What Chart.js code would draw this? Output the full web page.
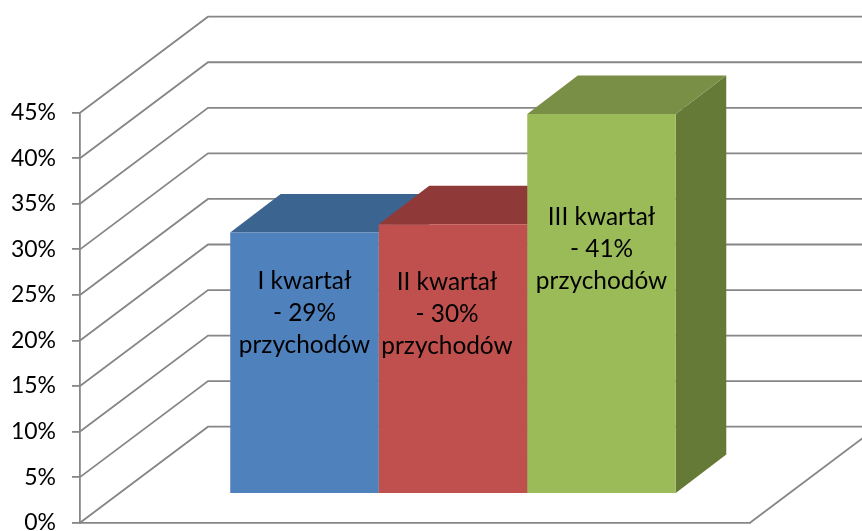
<!DOCTYPE html>
<html>
<head>
<meta charset="utf-8">
<style>html,body{margin:0;padding:0;background:#fff;overflow:hidden}#w{position:relative;width:862px;height:531px}canvas{display:block}</style>
<script src="https://cdn.jsdelivr.net/npm/chart.js@4"></script>
</head>
<body>
<div id="w"><canvas id="c" width="862" height="531"></canvas></div>
<script>
const categories = [''];
const seriesNames = ['I kwartał', 'II kwartał', 'III kwartał'];
const seriesValues = [[28.7], [29.6], [41.7]];
const seriesLabels = [
  ['I kwartał', '- 29%', 'przychodów'],
  ['II kwartał', '- 30%', 'przychodów'],
  ['III kwartał', '- 41%', 'przychodów']
];
const tickValues = [0, 5, 10, 15, 20, 25, 30, 35, 40, 45];

const frontColors = ['#4F81BD', '#C0504D', '#9BBB59'];
const topColors = ['#3C6491', '#8F3A38', '#788F45'];
const sideColors = ['#32557C', '#7A302E', '#667A38'];
const labelShift = [[0, -50], [-6, -45], [0, -54]];
const GRID = '#868686';
const FONT = 'Lato, Carlito, sans-serif';
const wallDX = 128, wallDY = -96;
const barDX = 38, barDY = -28.7;
const faceDX = 50.5, faceDY = -38.5;

const box3d = {
  id: 'box3d',
  beforeDatasetDraw() { return false; },
  beforeDatasetsDraw(chart) {
    const { ctx, chartArea: a, scales: { y } } = chart;
    ctx.save();
    ctx.strokeStyle = GRID;
    ctx.lineWidth = 1.8;
    tickValues.forEach(v => {
      const py = y.getPixelForValue(v);
      ctx.beginPath();
      ctx.moveTo(a.left, py);
      ctx.lineTo(a.left + wallDX, py + wallDY);
      ctx.lineTo(a.right + wallDX, py + wallDY);
      ctx.stroke();
    });
    const base = y.getPixelForValue(0);
    ctx.beginPath();
    ctx.moveTo(a.right, base);
    ctx.lineTo(a.right + wallDX, base + wallDY);
    ctx.stroke();
    ctx.restore();
  },
  afterDatasetsDraw(chart) {
    const { ctx } = chart;
    seriesValues.forEach((_, i) => {
      const bar = chart.getDatasetMeta(i).data[0];
      const hw = bar.width / 2;
      const l = bar.x - hw + barDX, r = bar.x + hw + barDX;
      const t = bar.y + barDY, b = bar.base + barDY;
      ctx.save();
      ctx.fillStyle = sideColors[i];
      ctx.beginPath();
      ctx.moveTo(r, t); ctx.lineTo(r + faceDX, t + faceDY);
      ctx.lineTo(r + faceDX, b + faceDY); ctx.lineTo(r, b);
      ctx.closePath(); ctx.fill();
      ctx.fillStyle = topColors[i];
      ctx.beginPath();
      ctx.moveTo(l, t); ctx.lineTo(l + faceDX, t + faceDY);
      ctx.lineTo(r + faceDX, t + faceDY); ctx.lineTo(r, t);
      ctx.closePath(); ctx.fill();
      ctx.translate(barDX, barDY);
      bar.draw(ctx);
      ctx.restore();
    });
    seriesValues.forEach((_, i) => {
      const bar = chart.getDatasetMeta(i).data[0];
      const cx = bar.x + barDX + labelShift[i][0];
      const cy = (bar.y + bar.base) / 2 + barDY + labelShift[i][1];
      ctx.save();
      ctx.fillStyle = '#000';
      ctx.font = '24.4px ' + FONT;
      ctx.textAlign = 'center';
      ctx.textBaseline = 'middle';
      seriesLabels[i].forEach((line, k) => ctx.fillText(line, cx, cy + (k - 1) * 32));
      ctx.restore();
    });
  }
};

new Chart(document.getElementById('c'), {
  type: 'bar',
  data: {
    labels: categories,
    datasets: seriesValues.map((vals, i) => ({
      label: seriesNames[i],
      data: vals,
      backgroundColor: frontColors[i],
      borderWidth: 0,
      barPercentage: 1,
      categoryPercentage: 0.665
    }))
  },
  options: {
    responsive: false,
    animation: false,
    layout: { padding: { top: 112.7, right: 112, bottom: 8.3, left: 0 } },
    plugins: { legend: { display: false }, title: { display: false }, tooltip: { enabled: false } },
    scales: {
      x: {
        afterFit(s) { s.height = 0; },
        ticks: { display: false },
        grid: { display: true, drawOnChartArea: false, drawTicks: false },
        border: { display: true, color: GRID, width: 1.8 }
      },
      y: {
        min: 0,
        max: 45,
        afterFit(s) { s.width = 80; s.paddingTop = 0; s.paddingBottom = 0; },
        afterBuildTicks(s) { s.ticks = tickValues.map(value => ({ value })); },
        ticks: {
          callback: v => v + '%',
          color: '#000',
          font: { family: FONT, size: 23 },
          padding: 16
        },
        grid: { display: true, drawOnChartArea: false, drawTicks: true, tickLength: 8, color: GRID, lineWidth: 1.8 },
        border: { display: true, color: GRID, width: 1.8 }
      }
    }
  },
  plugins: [box3d]
});
</script>
</body>
</html>
